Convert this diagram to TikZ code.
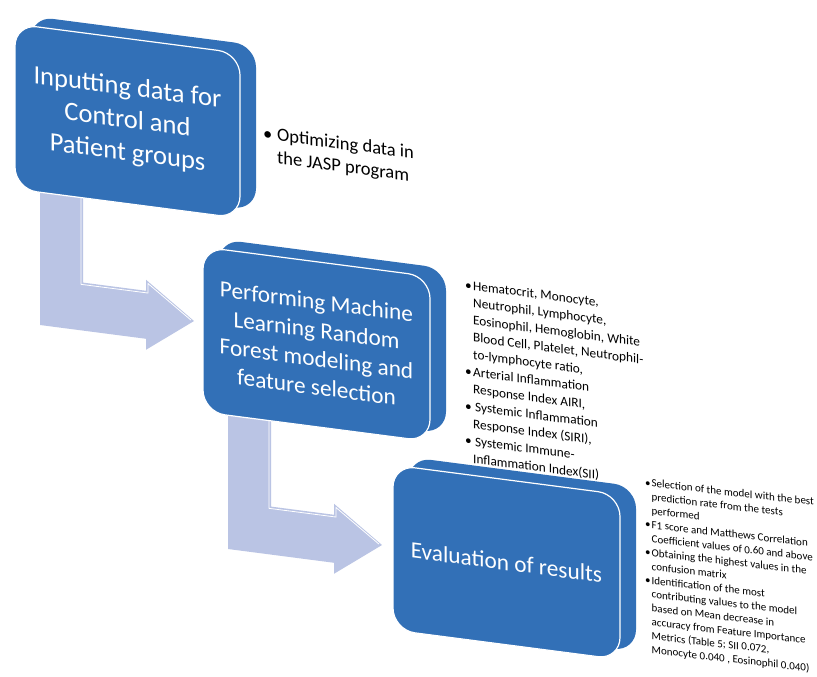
\documentclass[tikz,border=0pt]{standalone}
\usepackage{fontspec}
\setmainfont{Carlito}
\definecolor{boxblue}{RGB}{50,112,183}
\definecolor{arrowlav}{RGB}{186,196,228}
\tikzset{
  persp/.style={yslant=-0.13},
  perspnote/.style={yslant=-0.115},
  backface/.style={fill=boxblue, rounded corners=22pt},
  frontface/.style={fill=boxblue, draw=white, line width=1.2pt, rounded corners=22pt},
  boxtext/.style={text=white, align=center, inner sep=0pt, transform shape},
  notetext/.style={text=black, inner sep=0pt, anchor=base west, transform shape},
  bentarrow/.style={fill=arrowlav},
  bevel/.style={draw=white, line width=0.8pt},
}
\newcommand{\bentarrowshape}{%
  \fill[bentarrow] (0,-10) -- (43,-10) -- (43,82) -- (106,82) -- (106,71) -- (154,106)
     -- (106,141) -- (106,130) -- (0,130) -- cycle;
  \draw[bevel] (41,-10) -- (41,84) -- (108,84) -- (108,74.5) -- (151,105.5);
}
\newcommand{\boxshape}[1]{%
  \path[backface] (16,-10) rectangle ++(#1,165);
  \path[frontface] (0,0) rectangle (#1,165);
}
\begin{document}
\begin{tikzpicture}[x=1pt,y=-1pt]
\useasboundingbox[fill=white] (0,0) rectangle (817,677);

% bent arrows
\begin{scope}[shift={(40,195)}, persp]
  \bentarrowshape
\end{scope}
\begin{scope}[shift={(228,419)}, persp]
  \bentarrowshape
\end{scope}

% box 1
\begin{scope}[shift={(15,24)}, persp]
  \boxshape{225}
  \node[boxtext, font=\fontsize{26.5}{32.5}\selectfont] (b1) at (112.5,82.5)
    {Inputting data for\\Control and\\Patient groups};
\end{scope}

% box 2
\begin{scope}[shift={(203,247)}, persp]
  \boxshape{227}
  \node[boxtext, font=\fontsize{23.3}{28.5}\selectfont] (b2) at (113.5,82.5)
    {Performing Machine\\Learning Random\\Forest modeling and\\feature selection};
\end{scope}

% box 3
\begin{scope}[shift={(393,465)}, persp]
  \boxshape{227}
  \node[boxtext, font=\fontsize{23.3}{28.5}\selectfont] (b3) at (113.5,82.5)
    {Evaluation of results};
\end{scope}

% note 1
\begin{scope}[shift={(263,139)}, persp]
  \node[notetext, font=\fontsize{18.5}{23}\selectfont] (n1) at (0,0)
    {\begin{tabular}[t]{@{}l@{}l@{}}
      \makebox[14pt][l]{\textbullet} & Optimizing data in\\
       & the JASP program
     \end{tabular}};
\end{scope}

% note 2
\begin{scope}[shift={(465,289)}, persp]
  \node[notetext, font=\fontsize{13.3}{17.3}\selectfont] (n2) at (0,0)
    {\begin{tabular}[t]{@{}l@{}l@{}}
      \makebox[8pt][l]{\textbullet} & Hematocrit, Monocyte,\\
       & Neutrophil, Lymphocyte,\\
       & Eosinophil, Hemoglobin, White\\
       & Blood Cell, Platelet, Neutrophil-\\
       & to-lymphocyte ratio,\\
      \makebox[8pt][l]{\textbullet} & Arterial Inflammation\\
       & Response Index AIRI,\\
      \makebox[8pt][l]{\textbullet} & \hspace{2pt}Systemic Inflammation\\
       & Response Index (SIRI),\\
      \makebox[8pt][l]{\textbullet} & \hspace{2pt}Systemic Immune-\\
       & Inflammation Index(SII)
     \end{tabular}};
\end{scope}

% note 3
\begin{scope}[shift={(645,486)}, perspnote]
  \node[notetext, font=\fontsize{11}{13.9}\selectfont] (n3) at (0,0)
    {\begin{tabular}[t]{@{}l@{}l@{}}
      \makebox[6.5pt][l]{\textbullet} & Selection of the model with the best\\
       & prediction rate from the tests\\
       & performed\\
      \makebox[6.5pt][l]{\textbullet} & F1 score and Matthews Correlation\\
       & Coefficient values of 0.60 and above\\
      \makebox[6.5pt][l]{\textbullet} & Obtaining the highest values in the\\
       & confusion matrix\\
      \makebox[6.5pt][l]{\textbullet} & Identification of the most\\
       & contributing values to the model\\
       & based on Mean decrease in\\
       & accuracy from Feature Importance\\
       & Metrics (Table 5; SII 0.072,\\
       & Monocyte 0.040 , Eosinophil 0.040)
     \end{tabular}};
\end{scope}
\end{tikzpicture}
\end{document}
